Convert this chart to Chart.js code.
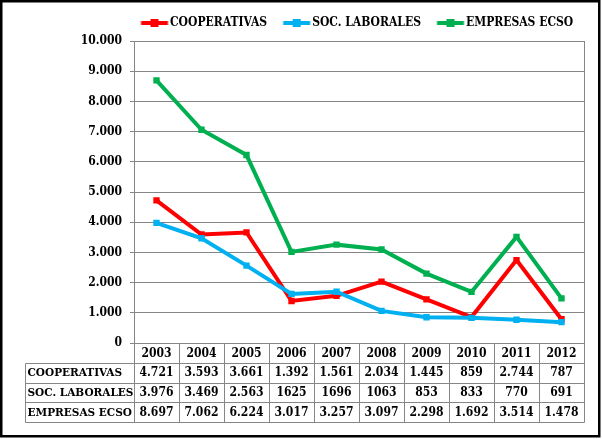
<!DOCTYPE html>
<html lang="es">
<head>
<meta charset="UTF-8">
<title>Cooperativas, sociedades laborales y empresas ECSO 2003-2012</title>
<script src="https://cdn.jsdelivr.net/npm/chart.js"></script>
<style>
  html, body { margin: 0; padding: 0; background: #fff; }
  #wrap { position: relative; width: 602px; height: 439px; }
</style>
</head>
<body>
<div id="wrap"><canvas id="chart" width="602" height="439"></canvas></div>
<script>
const years = ['2003', '2004', '2005', '2006', '2007', '2008', '2009', '2010', '2011', '2012'];
const cooperativas = [4721, 3593, 3661, 1392, 1561, 2034, 1445, 859, 2744, 787];
const socLaborales = [3976, 3469, 2563, 1625, 1696, 1063, 853, 833, 770, 691];
const empresasEcso = [8697, 7062, 6224, 3017, 3257, 3097, 2298, 1692, 3514, 1478];
// texto de la tabla tal como aparece (SOC. LABORALES sin punto en 2006-2008)
const cooperativasTxt = ['4.721', '3.593', '3.661', '1.392', '1.561', '2.034', '1.445', '859', '2.744', '787'];
const socLaboralesTxt = ['3.976', '3.469', '2.563', '1625', '1696', '1063', '853', '833', '770', '691'];
const empresasEcsoTxt = ['8.697', '7.062', '6.224', '3.017', '3.257', '3.097', '2.298', '1.692', '3.514', '1.478'];

const FONT = "'DejaVu Serif Condensed', 'DejaVu Serif', serif";
const GRID = '#868686';

Chart.defaults.color = '#000';
Chart.defaults.font.family = FONT;
Chart.defaults.font.weight = 'bold';
Chart.defaults.font.size = 12;

// simbolo de leyenda: linea con marcador cuadrado
function legendSymbol(color) {
  const c = document.createElement('canvas');
  c.width = 40; c.height = 10;
  const g = c.getContext('2d');
  g.strokeStyle = color; g.lineWidth = 4;
  g.beginPath(); g.moveTo(9.5, 5); g.lineTo(36.5, 5); g.stroke();
  g.fillStyle = color;
  g.fillRect(19, 1, 8, 8);
  return c;
}

const tablaDatos = {
  id: 'tablaDatos',
  afterInit(chart) {
    const leg = chart.legend;
    const fit = leg.fit;
    leg.fit = function () { fit.call(this); this.height = 38; };
  },
  afterLayout(chart) {
    chart.legend.left = 125;
    chart.legend.right = 700;
  },
  afterDraw(chart) {
    const { ctx, chartArea: a } = chart;
    const x = chart.scales.x;
    const n = years.length;
    const w = (a.right - a.left) / n;
    const rowTop = a.bottom + 20;
    const rowH = 19.6;
    const tableLeft = 25;
    const rows = [
      ['COOPERATIVAS', cooperativasTxt],
      ['SOC. LABORALES', socLaboralesTxt],
      ['EMPRESAS ECSO', empresasEcsoTxt]
    ];
    const px = v => Math.round(v) + 0.5;

    ctx.save();
    ctx.strokeStyle = GRID;
    ctx.lineWidth = 1;
    ctx.beginPath();
    // borde derecho del area de trazado
    ctx.moveTo(px(a.right), a.top); ctx.lineTo(px(a.right), a.bottom);
    // columnas
    for (let k = 0; k <= n; k++) {
      const X = px(a.left + k * w);
      ctx.moveTo(X, a.bottom); ctx.lineTo(X, px(rowTop + 3 * rowH));
    }
    ctx.moveTo(px(tableLeft), px(rowTop)); ctx.lineTo(px(tableLeft), px(rowTop + 3 * rowH));
    for (let r = 0; r <= 3; r++) {
      const Y = px(rowTop + r * rowH);
      ctx.moveTo(px(tableLeft), Y); ctx.lineTo(px(a.right), Y);
    }
    ctx.stroke();

    ctx.fillStyle = '#000';
    ctx.textBaseline = 'middle';
    rows.forEach(([label, vals], r) => {
      const yc = rowTop + r * rowH + rowH / 2 + 0.5;
      ctx.textAlign = 'left';
      ctx.font = 'bold 11.7px ' + FONT;
      ctx.fillText(label, tableLeft + 2.5, yc);
      ctx.textAlign = 'center';
      ctx.font = 'bold 12px ' + FONT;
      vals.forEach((t, i) => ctx.fillText(t, x.getPixelForValue(i), yc));
    });

    // marco exterior
    ctx.strokeStyle = '#000';
    ctx.lineWidth = 2.5;
    ctx.strokeRect(1.25, 1.25, 598, 435);
    ctx.restore();
  }
};

function serie(label, data, color, order) {
  return {
    label, data, order,
    borderColor: color,
    backgroundColor: color,
    borderWidth: 4,
    pointStyle: 'rect',
    pointRadius: 4.5,
    pointBorderWidth: 0,
    pointBackgroundColor: color,
    tension: 0
  };
}

new Chart(document.getElementById('chart'), {
  type: 'line',
  data: {
    labels: years,
    datasets: [
      serie('COOPERATIVAS', cooperativas, '#FF0000', 3),
      serie('SOC. LABORALES', socLaborales, '#00B0F0', 2),
      serie('EMPRESAS ECSO', empresasEcso, '#00B050', 1)
    ]
  },
  options: {
    responsive: false,
    animation: false,
    layout: { padding: { left: 0, right: 18, top: 3, bottom: 18 } },
    plugins: {
      tooltip: { enabled: false },
      legend: {
        position: 'top',
        align: 'start',
        labels: {
          usePointStyle: true,
          pointStyleWidth: 25,
          padding: 14,
          font: { size: 12, weight: 'bold', family: FONT },
          sort: (a, b) => a.datasetIndex - b.datasetIndex,
          generateLabels(chart) {
            const items = Chart.defaults.plugins.legend.labels.generateLabels(chart);
            items.forEach(it => {
              it.pointStyle = legendSymbol(chart.data.datasets[it.datasetIndex].borderColor);
            });
            return items;
          }
        }
      }
    },
    scales: {
      x: {
        offset: true,
        grid: { display: false, drawTicks: false },
        border: { display: true, color: GRID },
        ticks: { padding: 4, font: { size: 12 }, maxRotation: 0, autoSkip: false },
        afterFit(s) { s.height = 78; }
      },
      y: {
        min: 0,
        max: 10000,
        ticks: {
          stepSize: 1000,
          padding: 8,
          font: { size: 12 },
          callback: v => v.toLocaleString('de-DE')
        },
        grid: { color: GRID, tickColor: GRID, tickLength: 4 },
        border: { color: GRID },
        afterFit(s) { s.width = 134; }
      }
    }
  },
  plugins: [tablaDatos]
});
</script>
</body>
</html>
